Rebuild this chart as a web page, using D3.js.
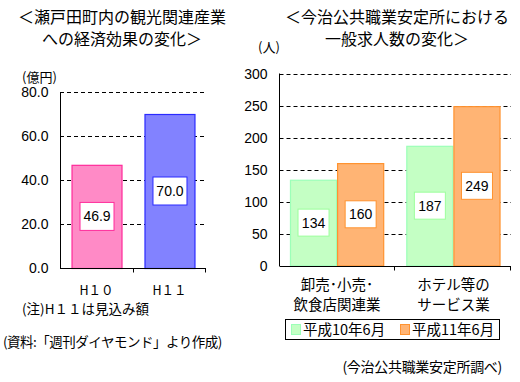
<!DOCTYPE html>
<html><head><meta charset="utf-8">
<script src="https://cdn.jsdelivr.net/npm/d3@7"></script>
<style>
html,body{margin:0;padding:0;background:#fff;}
svg{display:block;font-family:"Liberation Sans","Noto Sans CJK JP",sans-serif;}
</style></head>
<body>
<script>
// ---- data ----
const leftTitle = ["＜瀬戸田町内の観光関連産業", "への経済効果の変化＞"];
const leftCategories = ["H１０", "H１１"];
const leftValues = [46.9, 70.0];
const leftTicks = [0, 20, 40, 60, 80];
const leftUnit = "(億円)";
const leftNote = "(注)H１１は見込み額";
const leftSource = "(資料:「週刊ダイヤモンド」より作成)";

const rightTitle = ["＜今治公共職業安定所における", "一般求人数の変化＞"];
const rightCategories = [["卸売･小売･", "飲食店関連業"], ["ホテル等の", "サービス業"]];
const rightSeries = ["平成10年6月", "平成11年6月"];
const rightH10 = [134, 187];
const rightH11 = [160, 249];
const rightTicks = [0, 50, 100, 150, 200, 250, 300];
const rightUnit = "(人)";
const rightSource = "(今治公共職業安定所調べ)";

const W = 520, H = 382;
const svg = d3.select("body").append("svg").attr("width", W).attr("height", H);

const jp = '"Noto Sans CJK JP",sans-serif';

// titles
function title(lines, cx) {
  lines.forEach((t, i) => {
    svg.append("text").attr("x", cx).attr("y", 23 + i * 22)
      .attr("text-anchor", "middle").attr("font-size", 16).attr("font-family", jp)
      .attr("fill", "#000").text(t);
  });
}
title(leftTitle, 122);
title(rightTitle, 397);

// ---------- left chart ----------
const lx = d3.scaleBand().domain(leftCategories).range([60, 206]).paddingInner(0.315).paddingOuter(0.158);
const ly = d3.scaleLinear().domain([0, 80]).range([268, 92]);
const lColors = [{fill: "#FF8AC6", stroke: "#FF2A9A"}, {fill: "#8282FF", stroke: "#2A2AFF"}];

const lg = svg.append("g");
lg.selectAll(".grid").data(leftTicks.filter(d => d > 0)).join("line")
  .attr("x1", 60).attr("x2", 206).attr("y1", d => ly(d) + 0.5).attr("y2", d => ly(d) + 0.5)
  .attr("stroke", "#000").attr("stroke-width", 1).attr("stroke-dasharray", "4,3");
const lyAxis = d3.axisLeft(ly).tickValues(leftTicks).tickFormat(d3.format(".1f")).tickSize(0).tickPadding(12);
const lya = lg.append("g").attr("transform", "translate(60.5,0)").call(lyAxis);
lya.select(".domain").attr("stroke", "#000").attr("d", `M0,${ly(80)}V${ly(0) + 0.5}`);
lya.selectAll("text").attr("font-size", 14).attr("fill", "#000").attr("dy", "0.35em");
lg.selectAll(".bar").data(leftValues).join("rect")
  .attr("x", (d, i) => lx(leftCategories[i]) + 0.5).attr("y", d => ly(d) + 0.5)
  .attr("width", lx.bandwidth()).attr("height", d => ly(0) - ly(d))
  .attr("fill", (d, i) => lColors[i].fill).attr("stroke", (d, i) => lColors[i].stroke).attr("stroke-width", 1.2);
const lxAxisG = lg.append("g").attr("transform", `translate(0,${ly(0) + 0.5})`);
lxAxisG.append("line").attr("x1", 60).attr("x2", 206).attr("stroke", "#000");
lxAxisG.selectAll(".tk").data([133.5, 205.5]).join("line")
  .attr("x1", d => d).attr("x2", d => d).attr("y1", 0).attr("y2", 4).attr("stroke", "#000");
lg.selectAll(".xl").data(leftCategories).join("text")
  .attr("x", d => lx(d) + lx.bandwidth() / 2).attr("y", 295).attr("text-anchor", "middle")
  .attr("font-size", 12.5).attr("font-family", jp).attr("fill", "#000").text(d => d);
leftValues.forEach((v, i) => {
  const cx = lx(leftCategories[i]) + lx.bandwidth() / 2 + 0.5;
  const cy = (ly(v) + ly(0)) / 2;
  lg.append("rect").attr("x", cx - 17).attr("y", cy - 14).attr("width", 34).attr("height", 28)
    .attr("fill", "#fff").attr("stroke", lColors[i].stroke).attr("stroke-width", 1);
  lg.append("text").attr("x", cx).attr("y", cy).attr("dy", "0.36em").attr("text-anchor", "middle")
    .attr("font-size", 14).attr("fill", "#000").text(d3.format(".1f")(v));
});
lg.append("text").attr("x", 22).attr("y", 82).attr("font-size", 13).attr("font-family", jp).text(leftUnit);
lg.append("text").attr("x", 22).attr("y", 314).attr("font-size", 13.5).attr("font-family", jp).text(leftNote);
lg.append("text").attr("x", 3).attr("y", 347).attr("font-size", 13.5).attr("font-family", jp).attr("letter-spacing", -0.5).text(leftSource);

// ---------- right chart ----------
const catKeys = rightCategories.map(d => d.join(""));
const rx0 = d3.scaleBand().domain(catKeys).range([279.5, 511]).paddingInner(0.19).paddingOuter(0.09);
const rx1 = d3.scaleBand().domain(rightSeries).range([0, rx0.bandwidth()]);
const ry = d3.scaleLinear().domain([0, 300]).range([265.5, 73.5]);
const rColors = [{fill: "#C4FFC4", stroke: "#9CFFB8", label: "#9CFF9C"}, {fill: "#FFB474", stroke: "#FF9330", label: "#FF9330"}];
const rg = svg.append("g");
rg.selectAll(".grid").data(rightTicks.filter(d => d > 0)).join("line")
  .attr("x1", 279.5).attr("x2", 511).attr("y1", d => Math.round(ry(d)) + 0.5).attr("y2", d => Math.round(ry(d)) + 0.5)
  .attr("stroke", "#000").attr("stroke-dasharray", "4,3");
const ryAxis = d3.axisLeft(ry).tickValues(rightTicks).tickSize(0).tickPadding(12);
const rya = rg.append("g").attr("transform", "translate(279.5,0)").call(ryAxis);
rya.select(".domain").attr("stroke", "#000").attr("d", `M0,${ry(300)}V${ry(0) + 0.5}`);
rya.selectAll("text").attr("font-size", 14).attr("fill", "#000").attr("dy", "0.35em");

const rData = catKeys.map((k, i) => ({key: k, vals: [rightH10[i], rightH11[i]]}));
rData.forEach((g) => {
  g.vals.forEach((v, si) => {
    const x = rx0(g.key) + rx1(rightSeries[si]);
    rg.append("rect").attr("x", x + 0.5).attr("y", ry(v) + 0.5).attr("width", rx1.bandwidth() - 1)
      .attr("height", ry(0) - ry(v)).attr("fill", rColors[si].fill).attr("stroke", rColors[si].stroke).attr("stroke-width", 1.2);
  });
});
rData.forEach((g) => {
  g.vals.forEach((v, si) => {
    const cx = rx0(g.key) + rx1(rightSeries[si]) + rx1.bandwidth() / 2;
    const cy = (ry(v) + ry(0)) / 2;
    rg.append("rect").attr("x", cx - 15.5).attr("y", cy - 13.5).attr("width", 31).attr("height", 27)
      .attr("fill", "#fff").attr("stroke", rColors[si].label);
    rg.append("text").attr("x", cx).attr("y", cy).attr("dy", "0.36em").attr("text-anchor", "middle")
      .attr("font-size", 14).attr("fill", "#000").text(v);
  });
});
const rxa = rg.append("g").attr("transform", `translate(0,${Math.round(ry(0)) + 0.5})`);
rxa.append("line").attr("x1", 279.5).attr("x2", 511).attr("stroke", "#000");
rxa.selectAll(".tk").data([394.5, 510.5]).join("line")
  .attr("x1", d => d).attr("x2", d => d).attr("y1", 0).attr("y2", 4).attr("stroke", "#000");
rightCategories.forEach((lines, i) => {
  const cx = rx0(catKeys[i]) + rx0.bandwidth() / 2;
  lines.forEach((t, j) => {
    rg.append("text").attr("x", cx).attr("y", 290 + j * 20).attr("text-anchor", "middle")
      .attr("font-size", 14.5).attr("font-family", jp).text(t);
  });
});
rg.append("rect").attr("x", 285.5).attr("y", 319.5).attr("width", 214).attr("height", 20)
  .attr("fill", "#fff").attr("stroke", "#000");
const legX = [291, 400];
rightSeries.forEach((s, i) => {
  rg.append("rect").attr("x", legX[i] + 0.5).attr("y", 324.5).attr("width", 9).attr("height", 10)
    .attr("fill", rColors[i].fill).attr("stroke", rColors[i].stroke);
  rg.append("text").attr("x", legX[i] + 12).attr("y", 335).attr("font-size", 14.5).attr("font-family", jp).text(s);
});
rg.append("text").attr("x", 502).attr("y", 372).attr("text-anchor", "end").attr("font-size", 14)
  .attr("font-family", jp).attr("letter-spacing", -0.3).text(rightSource);
rg.append("text").attr("x", 258).attr("y", 52).attr("font-size", 13).attr("font-family", jp).text(rightUnit);
</script>
</body></html>
